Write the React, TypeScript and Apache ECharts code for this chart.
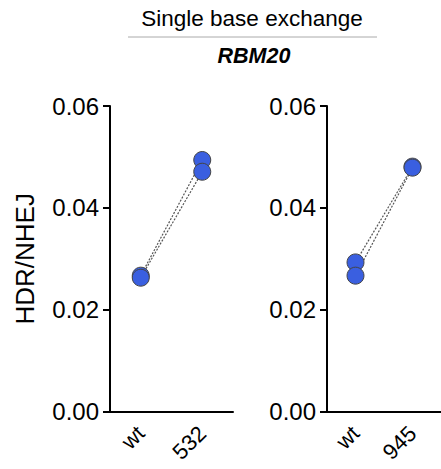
import React, { useEffect, useRef } from "react";
import * as echarts from "echarts";

const titleText = "Single base exchange";
const geneText = "RBM20";
const yAxisName = "HDR/NHEJ";
const categoriesLeft = ["wt", "532"];
const categoriesRight = ["wt", "945"];
const leftWt = [0.0267, 0.0263];
const leftMut = [0.0494, 0.0471];
const rightWt = [0.0293, 0.0267];
const rightMut = [0.0481, 0.0479];
const yTicks = [0, 0.02, 0.04, 0.06];

const FONT = "Liberation Sans, Arial, Helvetica, sans-serif";

export default function App() {
  const ref = useRef<HTMLDivElement>(null);
  useEffect(() => {
    if (!ref.current) return;
    const chart = echarts.init(ref.current, null, { renderer: "svg" });

    const mkX = (cats: string[], gi: number) => ({
      type: "category",
      gridIndex: gi,
      data: cats,
      boundaryGap: true,
      axisLine: { lineStyle: { color: "#000", width: 2 } },
      axisTick: { alignWithLabel: true, length: 8, lineStyle: { color: "#000", width: 2 } },
      axisLabel: { rotate: 45, fontSize: 22, color: "#000", fontFamily: FONT, margin: 18 },
    });
    const mkY = (gi: number, named: boolean) => ({
      type: "value",
      gridIndex: gi,
      min: yTicks[0],
      max: yTicks[yTicks.length - 1],
      interval: yTicks[1] - yTicks[0],
      name: named ? yAxisName : "",
      nameLocation: "middle",
      nameRotate: 90,
      nameGap: 72,
      nameTextStyle: { fontSize: 26, color: "#000", fontFamily: FONT },
      splitLine: { show: false },
      axisLine: { show: true, lineStyle: { color: "#000", width: 2 } },
      axisTick: { show: true, length: 7, lineStyle: { color: "#000", width: 2 } },
      axisLabel: {
        fontSize: 24,
        color: "#000",
        fontFamily: FONT,
        margin: 11,
        formatter: (v: number) => v.toFixed(2),
      },
    });

    const lineSeries = (wt: number[], mut: number[], cats: string[], gi: number) =>
      wt.map((w, i) => ({
        type: "line",
        xAxisIndex: gi,
        yAxisIndex: gi,
        data: [
          [cats[0], w],
          [cats[1], mut[i]],
        ],
        symbol: "none",
        lineStyle: { color: "#555", width: 1.2, type: [2, 1.5] },
        z: 1,
        silent: true,
      }));
    const scatterSeries = (wt: number[], mut: number[], cats: string[], gi: number) => ({
      type: "scatter",
      xAxisIndex: gi,
      yAxisIndex: gi,
      symbolSize: 17,
      data: [...wt.map((w) => [cats[0], w]), ...mut.map((m) => [cats[1], m])],
      itemStyle: { color: "#3a5fe0", borderColor: "#444", borderWidth: 1, opacity: 1 },
      z: 3,
    });

    chart.setOption({
      animation: false,
      grid: [
        { left: 110, top: 106, width: 123, height: 305.7 },
        { left: 327, top: 106, width: 123, height: 305.7 },
      ],
      xAxis: [mkX(categoriesLeft, 0), mkX(categoriesRight, 1)],
      yAxis: [mkY(0, true), mkY(1, false)],
      series: [
        ...lineSeries(leftWt, leftMut, categoriesLeft, 0),
        ...lineSeries(rightWt, rightMut, categoriesRight, 1),
        scatterSeries(leftWt, leftMut, categoriesLeft, 0),
        scatterSeries(rightWt, rightMut, categoriesRight, 1),
      ],
      graphic: [
        {
          type: "text",
          x: 252,
          y: 18,
          style: {
            text: titleText,
            fontSize: 22.5,
            fontFamily: FONT,
            fill: "#000",
            textAlign: "center",
            textVerticalAlign: "middle",
          },
        },
        {
          type: "line",
          shape: { x1: 128, y1: 37, x2: 377, y2: 37 },
          style: { stroke: "#aaa", lineWidth: 1 },
        },
        {
          type: "text",
          x: 254,
          y: 56,
          style: {
            text: geneText,
            fontSize: 21.5,
            fontWeight: "bold",
            fontStyle: "italic",
            fontFamily: FONT,
            fill: "#000",
            textAlign: "center",
            textVerticalAlign: "middle",
          },
        },
      ],
    });
    return () => chart.dispose();
  }, []);
  return (
    <div
      ref={ref}
      style={{ position: "fixed", left: 0, top: 0, width: 441, height: 469, background: "#fff" }}
    />
  );
}
